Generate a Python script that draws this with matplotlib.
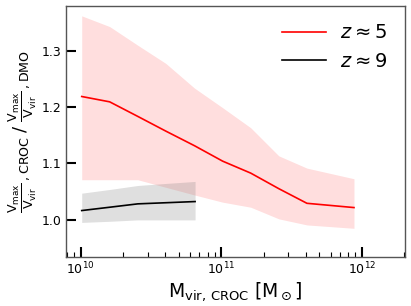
import numpy as np
import matplotlib
matplotlib.use("Agg")
import matplotlib.pyplot as plt

# data (log10 of halo mass)
logm_z5 = [10.007, 10.206, 10.406, 10.605, 10.81, 11.01, 11.21, 11.41, 11.61, 11.945]
ratio_z5 = [1.219, 1.2095, 1.1836, 1.1575, 1.1314, 1.104, 1.0827, 1.055, 1.029, 1.0214]
upper_z5 = [1.3625, 1.3434, 1.3102, 1.2780, 1.2339, 1.1991, 1.1634, 1.1134, 1.0916, 1.0727]
lower_z5 = [1.0709, 1.0709, 1.0709, 1.0575, 1.0438, 1.031, 1.022, 1.0013, 0.9905, 0.9845]

logm_z9 = [10.007, 10.206, 10.406, 10.605, 10.814]
ratio_z9 = [1.0161, 1.022, 1.0280, 1.030, 1.0321]
upper_z9 = [1.047, 1.0536, 1.0607, 1.0643, 1.0679]
lower_z9 = [0.995, 0.997, 0.9995, 0.9995, 0.9995]

m5 = 10 ** np.array(logm_z5)
m9 = 10 ** np.array(logm_z9)

fig = plt.figure(figsize=(4.11, 3.06), dpi=100)
ax = fig.add_axes([65.7 / 411, 1 - 256.7 / 306, (404.7 - 65.7) / 411, (256.7 - 6) / 306])

ax.fill_between(m5, lower_z5, upper_z5, color='red', alpha=0.13, lw=0)
ax.plot(m5, ratio_z5, color='red', lw=1.2, label=r'$z\approx5$')
ax.fill_between(m9, lower_z9, upper_z9, color='gray', alpha=0.25, lw=0)
ax.plot(m9, ratio_z9, color='black', lw=1.2, label=r'$z\approx9$')

ax.set_xscale('log')
ax.set_xlim(10 ** 9.893, 10 ** 12.306)
ax.set_ylim(0.934, 1.380)
ax.set_yticks([1.0, 1.1, 1.2, 1.3])

for s in ax.spines.values():
    s.set_color('#555555')
    s.set_linewidth(1.0)

ax.tick_params(which='major', direction='in', length=7, width=1.5, labelsize=9, pad=3)
ax.tick_params(which='minor', direction='in', length=3.5, width=0.8)

ax.set_xlabel(r'$\rm M_{vir,\,CROC}\ [M_\odot]$', fontsize=13.5, labelpad=2)
ax.set_ylabel(r'$\rm \frac{V_{max}}{V_{vir}}_{\,,CROC}\;/\;\frac{V_{max}}{V_{vir}}_{\,,DMO}$',
              fontsize=13, labelpad=2)

ax.legend(loc='upper right', frameon=False, fontsize=14, handlelength=2.3,
          borderaxespad=0.5, labelspacing=0.5, handletextpad=0.7)

fig.savefig('out.png', dpi=100)
